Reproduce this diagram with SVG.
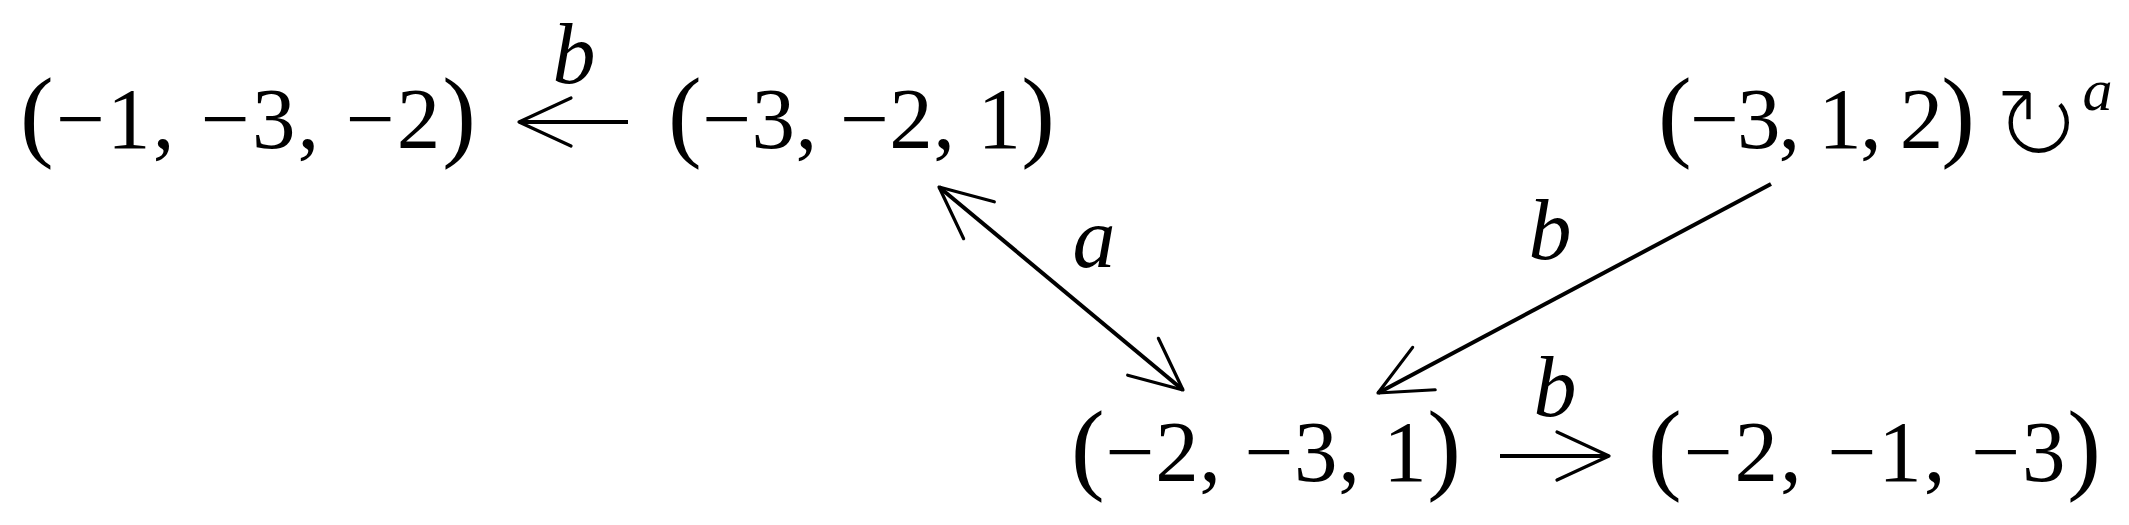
<svg xmlns="http://www.w3.org/2000/svg" width="2129" height="525" viewBox="0 0 2129 525">
<style>
.node{font-family:"Liberation Serif","Times New Roman",serif;font-size:87px;fill:#000}
.p{font-size:101px}
.lbl{font-family:"Liberation Serif","Times New Roman",serif;font-style:italic;font-size:86px;fill:#000;text-anchor:middle}
.loop{font-family:"DejaVu Sans",sans-serif;font-size:108px;fill:#000;stroke:#fff;stroke-width:4.5}
.sup{font-family:"Liberation Serif","Times New Roman",serif;font-style:italic;font-size:60px;stroke:none}
.edge{fill:none;stroke:#000;stroke-width:4;marker-end:url(#ah)}
</style>
<defs>
<marker id="ah" markerUnits="userSpaceOnUse" viewBox="-60 -30 64 60" refX="0" refY="0" markerWidth="64" markerHeight="60" orient="auto-start-reverse" overflow="visible">
<path d="M-52,-24 L0,0 L-52,24" fill="none" stroke="#000" stroke-width="3.2" stroke-linecap="round" stroke-linejoin="round"/>
</marker>
</defs>
<rect width="2129" height="525" fill="#fff"/>
<g id="node-m1m3m2"><text class="node" x="20" y="148" textLength="456" lengthAdjust="spacing"><tspan class="p">(</tspan>−1, −3, −2<tspan class="p">)</tspan></text></g>
<g id="node-m3m21"><text class="node" x="668" y="148" textLength="387" lengthAdjust="spacing"><tspan class="p">(</tspan>−3, −2, 1<tspan class="p">)</tspan></text></g>
<g id="node-m312"><text class="node" x="1658" y="148" textLength="317" lengthAdjust="spacing"><tspan class="p">(</tspan>−3, 1, 2<tspan class="p">)</tspan></text>
<text class="loop" x="1992" y="162">↻<tspan class="sup" y="110">a</tspan></text></g>
<g id="node-m2m31"><text class="node" x="1071" y="481" textLength="390" lengthAdjust="spacing"><tspan class="p">(</tspan>−2, −3, 1<tspan class="p">)</tspan></text></g>
<g id="node-m2m1m3"><text class="node" x="1648" y="481" textLength="453" lengthAdjust="spacing"><tspan class="p">(</tspan>−2, −1, −3<tspan class="p">)</tspan></text></g>
<g id="connectors">
<line class="edge" x1="628" y1="122" x2="519" y2="122"/>
<line class="edge" x1="939" y1="187" x2="1183" y2="390" style="marker-start:url(#ah)"/>
<line class="edge" x1="1771" y1="184" x2="1378" y2="393"/>
<line class="edge" x1="1500" y1="456" x2="1609" y2="456"/>
<text class="lbl" x="574" y="83">b</text>
<text class="lbl" x="1094" y="267">a</text>
<text class="lbl" x="1550" y="259">b</text>
<text class="lbl" x="1555" y="416">b</text>
</g>
</svg>
